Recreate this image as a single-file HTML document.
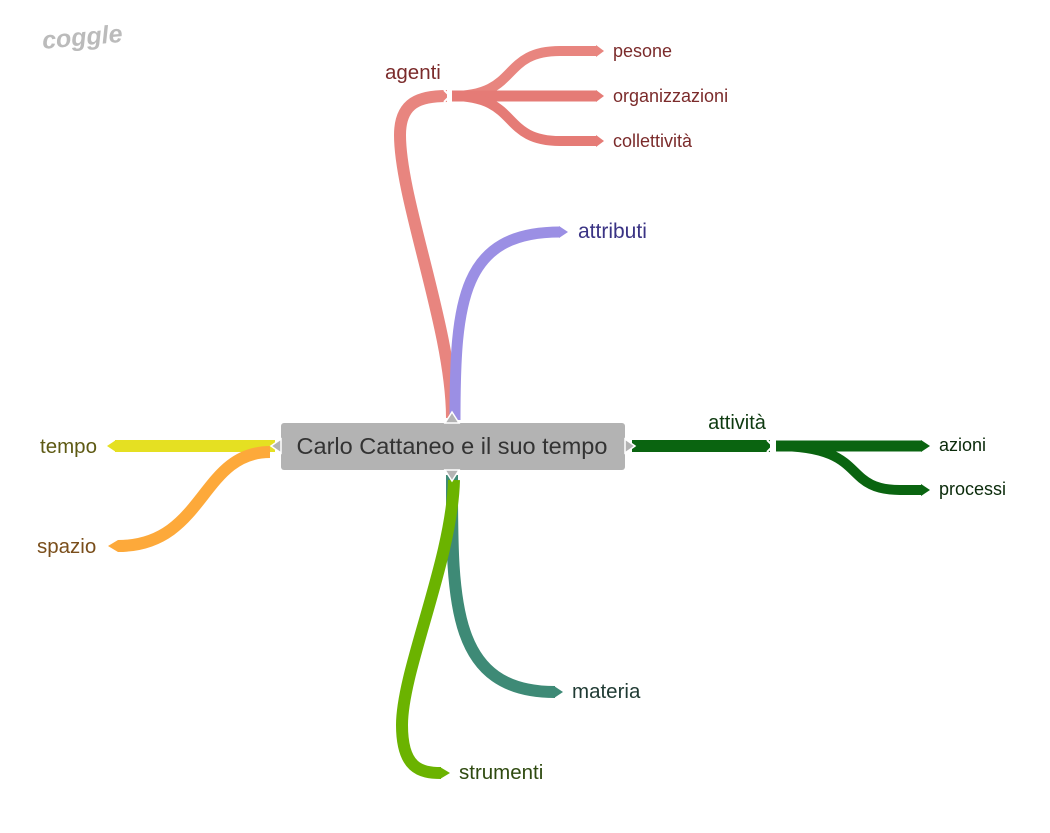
<!DOCTYPE html>
<html><head><meta charset="utf-8"><style>
html,body{margin:0;padding:0;background:#fff}
svg{display:block}
text{font-family:"Liberation Sans",sans-serif}
</style></head><body>
<svg width="1050" height="833" viewBox="0 0 1050 833" xmlns="http://www.w3.org/2000/svg">
<g fill="none" stroke-linecap="butt">
<path d="M452,418 C452,330 400,200 400,135 C400,102 420,96 447,96" stroke="#e8857f" stroke-width="12"/>
<path d="M452,96 C520,96 500,51 560,51 L597,51" stroke="#e8857f" stroke-width="10"/>
<path d="M452,96 L597,96" stroke="#e57b76" stroke-width="11"/>
<path d="M452,96 C520,96 500,141 560,141 L597,141" stroke="#e57b76" stroke-width="10"/>
<path d="M455,420 C455,300 462,232 560,232" stroke="#9b8fe4" stroke-width="11"/>
<path d="M275,446 L115,446" stroke="#e5e022" stroke-width="12"/>
<path d="M270,452 C200,452 205,546 118,546" stroke="#fda93a" stroke-width="12"/>
<path d="M632,446 L770,446" stroke="#0a6410" stroke-width="12"/>
<path d="M776,446 L922,446" stroke="#0a6410" stroke-width="11"/>
<path d="M776,446 C870,446 840,490 900,490 L922,490" stroke="#0a6410" stroke-width="10"/>
<path d="M452,475 C452,600 450,692 555,692" stroke="#3e8a76" stroke-width="12"/>
<path d="M454,480 C452,560 402,670 402,725 C402,768 420,773 441,773" stroke="#6bb300" stroke-width="12"/>
</g>
<g>
<polygon points="596,45 604,51 596,57" fill="#e8857f"/>
<polygon points="596,90 604,96 596,102" fill="#e57b76"/>
<polygon points="596,135 604,141 596,147" fill="#e57b76"/>
<polygon points="559,226 568,232 559,238" fill="#9b8fe4"/>
<polygon points="116,440 107,446 116,452" fill="#e5e022"/>
<polygon points="118,540 108,546 118,552" fill="#fda93a"/>
<polygon points="921,440 930,446 921,452" fill="#0a6410"/>
<polygon points="921,484 930,490 921,496" fill="#0a6410"/>
<polygon points="554,686 563,692 554,698" fill="#3e8a76"/>
<polygon points="440,767 450,773 440,779" fill="#6bb300"/>
<polyline points="444,90 450,96 444,102" fill="none" stroke="#fff" stroke-width="2"/>
<polyline points="767,440 773,446 767,452" fill="none" stroke="#fff" stroke-width="2"/>
</g>
<rect x="281" y="423" width="344" height="47" rx="3" fill="#b3b3b3"/>
<polygon points="445,423 452,412 459,423" fill="#b3b3b3" stroke="#fff" stroke-width="1.5"/>
<polygon points="445,470 452,481 459,470" fill="#b3b3b3" stroke="#fff" stroke-width="1.5"/>
<polygon points="281,439 271,446 281,453" fill="#b3b3b3" stroke="#fff" stroke-width="1.5"/>
<polygon points="625,439 635,446 625,453" fill="#b3b3b3" stroke="#fff" stroke-width="1.5"/>
<rect x="282" y="424" width="342" height="45" rx="3" fill="#b3b3b3"/>
<text x="452" y="454" font-size="23.5" fill="#333" text-anchor="middle">Carlo Cattaneo e il suo tempo</text>
<text x="385" y="79" font-size="20.5" fill="#7b2b2b">agenti</text>
<text x="613" y="57" font-size="18" fill="#7b2b2b">pesone</text>
<text x="613" y="102" font-size="18" fill="#7b2b2b">organizzazioni</text>
<text x="613" y="147" font-size="18" fill="#7b2b2b">collettività</text>
<text x="578" y="238" font-size="21" fill="#3a3384">attributi</text>
<text x="40" y="453" font-size="20.5" fill="#5e5a14">tempo</text>
<text x="37" y="553" font-size="20.5" fill="#7a4e1b">spazio</text>
<text x="737" y="429" font-size="20" fill="#0e3a10" text-anchor="middle">attività</text>
<text x="939" y="451" font-size="18" fill="#0a2a0a">azioni</text>
<text x="939" y="495" font-size="18" fill="#0a2a0a">processi</text>
<text x="572" y="698" font-size="20.5" fill="#1f3a33">materia</text>
<text x="459" y="779" font-size="20.5" fill="#2f4a10">strumenti</text>
<text x="42" y="46" font-size="25" fill="#bbb" font-style="italic" font-weight="bold" font-family="Liberation Serif,serif" transform="rotate(-5 75 38)">coggle</text>
</svg>
</body></html>
